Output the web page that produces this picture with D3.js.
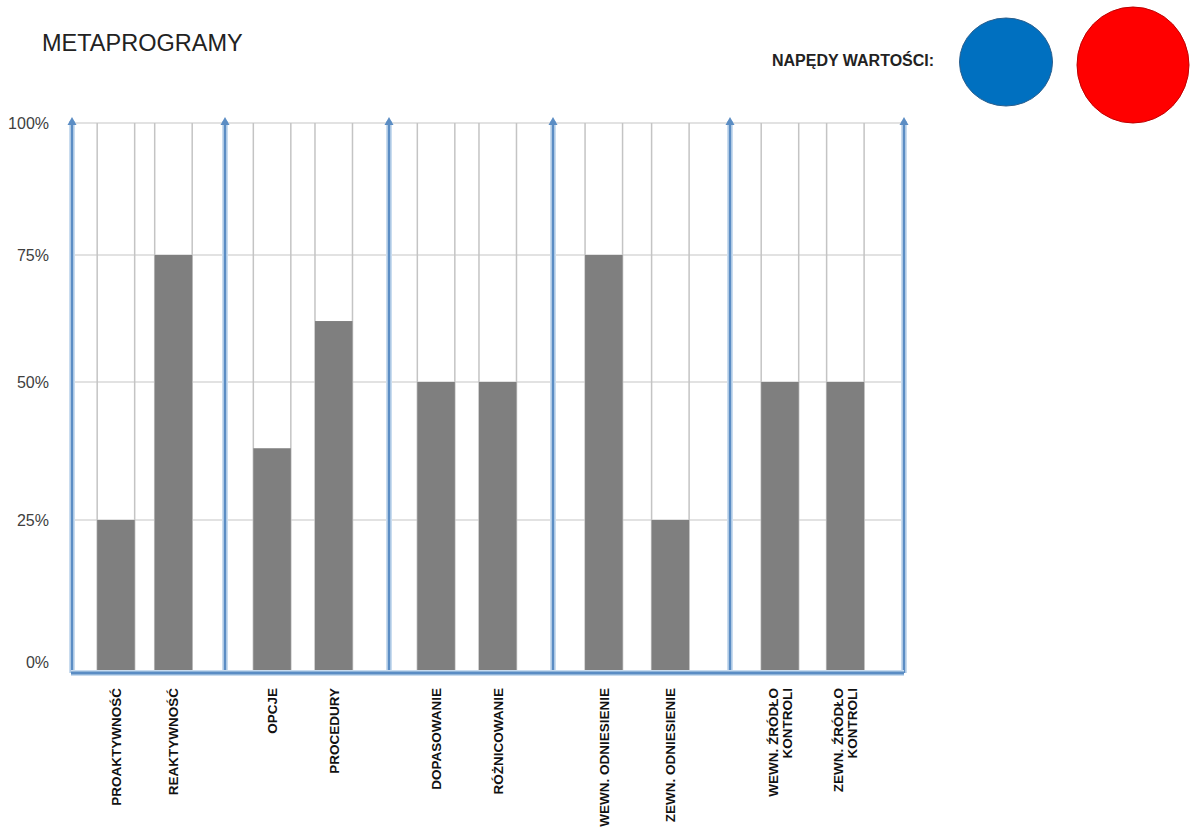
<!DOCTYPE html>
<html>
<head>
<meta charset="utf-8">
<script src="https://cdn.jsdelivr.net/npm/d3@7"></script>
<style>
body { margin: 0; background: #fff; }
svg { display: block; font-family: Arial, "Liberation Sans", sans-serif; }
</style>
</head>
<body>
<svg id="graph"></svg>
<script>
// data
var categories = ["PROAKTYWNOŚĆ", "REAKTYWNOŚĆ", "OPCJE", "PROCEDURY", "DOPASOWANIE",
  "RÓŻNICOWANIE", "WEWN. ODNIESIENIE", "ZEWN. ODNIESIENIE", "WEWN. ŹRÓDŁO\nKONTROLI", "ZEWN. ŹRÓDŁO\nKONTROLI"];
var values = [25, 75, 38, 62, 50, 50, 75, 25, 50, 50];
var groups = [0, 0, 1, 1, 2, 2, 3, 3, 4, 4];
var yTicks = [0, 25, 50, 75, 100];
var legendColors = ["#0070c0", "#ff0000"];

var screen = { width: 1192, height: 833 };
var svg = d3.select("#graph").attr("width", screen.width).attr("height", screen.height);

// the original scale isn't evenly spaced, so piecewise
var yScale = d3.scaleLinear().domain(yTicks).range([673, 520, 382, 255, 123]);
var gScale = d3.scaleLinear().domain([0, 1, 2, 3, 4, 5]).range([72, 225, 389, 553, 730, 904]);
var inner = d3.scalePoint().domain([0, 1]).range([0, 1]).padding(0.83).align(0.46);
var barW = 37.5;

var cx = function(d, i) {
  var g = groups[i];
  var w = gScale(g + 1) - gScale(g);
  return gScale(g) + inner(i % 2) * w;
};

// title
svg.append("text").attr("x", 42).attr("y", 51)
  .attr("font-size", 23.5).attr("fill", "#222").text("METAPROGRAMY");

// legend
svg.append("text").attr("x", 772).attr("y", 66)
  .attr("font-size", 16).attr("font-weight", "bold").attr("fill", "#222")
  .text("NAPĘDY WARTOŚCI:");
svg.append("ellipse").attr("cx", 1006).attr("cy", 62).attr("rx", 46.5).attr("ry", 44)
  .attr("fill", legendColors[0]).attr("stroke", "#2a5f8e").attr("stroke-width", 1);
svg.append("ellipse").attr("cx", 1133).attr("cy", 65).attr("rx", 56).attr("ry", 58)
  .attr("fill", legendColors[1]).attr("stroke", "#c00000").attr("stroke-width", 1);

// horizontal grid
svg.selectAll(".hgrid").data(yTicks.filter(function(t) { return t > 0; }))
  .enter().append("line")
  .attr("x1", gScale(0)).attr("x2", gScale(5))
  .attr("y1", function(d) { return yScale(d); })
  .attr("y2", function(d) { return yScale(d); })
  .attr("stroke", "#d9d9d9").attr("stroke-width", 1.5);

// vertical grid at bar edges
var edges = [];
values.forEach(function(v, i) {
  edges.push(cx(v, i) - barW / 2);
  edges.push(cx(v, i) + barW / 2);
});
svg.selectAll(".vgrid").data(edges).enter().append("line")
  .attr("x1", function(d) { return d; }).attr("x2", function(d) { return d; })
  .attr("y1", yScale(100)).attr("y2", yScale(0))
  .attr("stroke", "#c4c4c4").attr("stroke-width", 1.5);

// bars
svg.selectAll(".bar").data(values).enter().append("rect")
  .attr("x", function(d, i) { return cx(d, i) - barW / 2; })
  .attr("width", barW)
  .attr("y", function(d) { return yScale(d); })
  .attr("height", function(d) { return yScale(0) - yScale(d); })
  .attr("fill", "#7f7f7f");

// blue separators with arrows
var seps = [0, 1, 2, 3, 4, 5];
svg.selectAll(".sepglow").data(seps).enter().append("line")
  .attr("x1", function(d) { return gScale(d); }).attr("x2", function(d) { return gScale(d); })
  .attr("y1", yScale(100) - 2).attr("y2", yScale(0))
  .attr("stroke", "#c9dcef").attr("stroke-width", 6);
svg.selectAll(".sep").data(seps).enter().append("line")
  .attr("x1", function(d) { return gScale(d); }).attr("x2", function(d) { return gScale(d); })
  .attr("y1", yScale(100) - 2).attr("y2", yScale(0))
  .attr("stroke", "#5b8dc4").attr("stroke-width", 2.5);
svg.selectAll(".arrow").data(seps).enter().append("path")
  .attr("d", function(d) {
    var x = gScale(d), y = yScale(100) - 6;
    return "M" + (x - 4.5) + "," + (y + 8) + "L" + x + "," + y + "L" + (x + 4.5) + "," + (y + 8) + "Z";
  })
  .attr("fill", "#5b8dc4");

// baseline
svg.append("line").attr("x1", gScale(0) - 1).attr("x2", gScale(5))
  .attr("y1", yScale(0)).attr("y2", yScale(0))
  .attr("stroke", "#c9dcef").attr("stroke-width", 6);
svg.append("line").attr("x1", gScale(0) - 1).attr("x2", gScale(5))
  .attr("y1", yScale(0)).attr("y2", yScale(0))
  .attr("stroke", "#5b8dc4").attr("stroke-width", 3);

// y labels
svg.selectAll(".ylab").data(yTicks).enter().append("text")
  .attr("x", 49)
  .attr("y", function(d) { return yScale(d) + (d === 0 ? -11 : 0); })
  .attr("dy", "0.36em")
  .attr("text-anchor", "end")
  .attr("font-size", 16).attr("fill", "#404040")
  .text(function(d) { return d + "%"; });

// x labels, rotated
var xl = svg.selectAll(".xlab").data(categories).enter().append("text")
  .attr("transform", function(d, i) { return "translate(" + cx(d, i) + ",688) rotate(-90)"; })
  .attr("text-anchor", "end")
  .attr("font-size", 13.5).attr("font-weight", "bold").attr("fill", "#111");
xl.each(function(d) {
  var lines = d.split("\n");
  var t = d3.select(this);
  lines.forEach(function(l, k) {
    var off = (k - (lines.length - 1) / 2) * 14.5;
    t.append("tspan").attr("x", 0).attr("y", off).attr("dy", "0.36em").text(l);
  });
});
</script>
</body>
</html>
